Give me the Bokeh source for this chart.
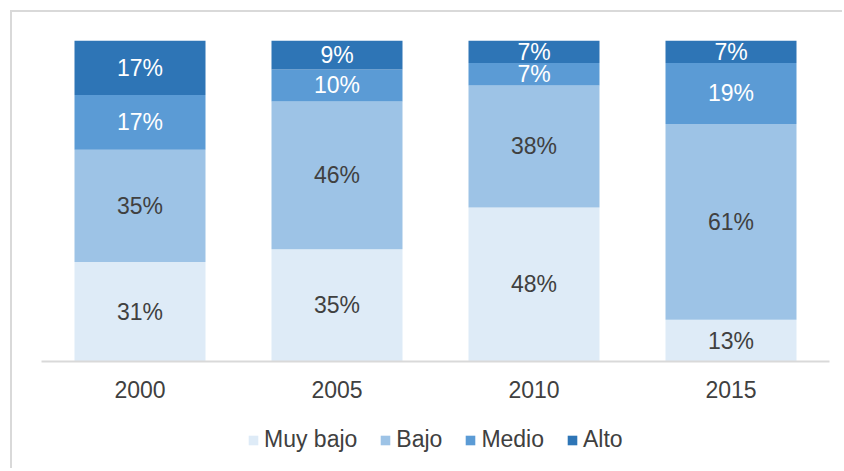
from bokeh.plotting import figure
from bokeh.layouts import column
from bokeh.models import ColumnDataSource, LabelSet, Legend, LegendItem, FactorRange, Range1d
from bokeh.core.properties import value
from bokeh.embed import file_html
from bokeh.resources import INLINE

years = ["2000", "2005", "2010", "2015"]
series = ["Muy bajo", "Bajo", "Medio", "Alto"]
muy_bajo = [31, 35, 48, 13]
bajo = [35, 46, 38, 61]
medio = [17, 10, 7, 19]
alto = [17, 9, 7, 7]
colors = ["#DEEBF7", "#9DC3E6", "#5B9BD5", "#2E75B6"]
label_colors = ["#404040", "#404040", "#FFFFFF", "#FFFFFF"]

FONT = "Liberation Sans"
W = 830

# main chart
p = figure(x_range=FactorRange(*years, range_padding=0), y_range=Range1d(0, 100),
           width=W, height=400, output_backend="svg", toolbar_location=None,
           min_border_left=29, min_border_right=W - 29 - 788, min_border_top=28,
           min_border_bottom=51)
p.outline_line_color = None
p.background_fill_color = "white"
p.border_fill_color = "white"
p.grid.visible = False
p.yaxis.visible = False

# legend strip (its bars lie outside its visible range; only the legend shows)
lf = figure(x_range=FactorRange(*years, range_padding=0), y_range=Range1d(-2000, -1000),
            width=W, height=56, output_backend="svg", toolbar_location=None, min_border=0)
lf.outline_line_color = None
lf.axis.visible = False
lf.grid.visible = False

all_vals = [muy_bajo, bajo, medio, alto]
bottoms = [0, 0, 0, 0]
lx, ly, lt, lc = [], [], [], []
items = []
for name, vals, col, tcol in zip(series, all_vals, colors, label_colors):
    tops = [b + v for b, v in zip(bottoms, vals)]
    src = ColumnDataSource(dict(x=years, bottom=bottoms, top=tops))
    p.vbar(x="x", bottom="bottom", top="top", width=0.665, source=src,
           fill_color=col, line_color=None)
    r = lf.vbar(x="x", bottom="bottom", top="top", width=0.0005, source=src,
                fill_color=col, line_color=None)
    items.append(LegendItem(label=name, renderers=[r]))
    for yr, b, v in zip(years, bottoms, vals):
        lx.append(yr)
        ly.append(b + v / 2)
        lt.append(f"{v}%")
        lc.append(tcol)
    bottoms = tops

lsrc = ColumnDataSource(dict(x=lx, y=ly, t=lt, c=lc))
labels = LabelSet(x="x", y="y", text="t", source=lsrc, text_align="center",
                  text_baseline="middle", text_color="c", text_font=value(FONT),
                  text_font_size="23px")
p.add_layout(labels)

ax = p.xaxis[0]
ax.axis_line_color = "#D9D9D9"
ax.axis_line_width = 2
ax.major_tick_line_color = None
ax.minor_tick_line_color = None
ax.major_label_text_font = FONT
ax.major_label_text_font_size = "23px"
ax.major_label_text_color = "#404040"
ax.major_label_standoff = 13

legend = Legend(items=items, orientation="horizontal", location=(206, 15),
                label_text_font=FONT, label_text_font_size="23px",
                label_text_color="#404040", glyph_width=12, glyph_height=12,
                label_height=24, label_standoff=5, spacing=22, border_line_color=None,
                background_fill_alpha=0, margin=0, padding=0)
lf.add_layout(legend, "center")

root = column(p, lf, spacing=0)
root.styles = {"margin-left": "10px", "margin-top": "10px",
               "border-top": "2px solid #D9D9D9", "border-left": "2px solid #D9D9D9"}

open("out.html", "w").write(file_html(root, INLINE))
